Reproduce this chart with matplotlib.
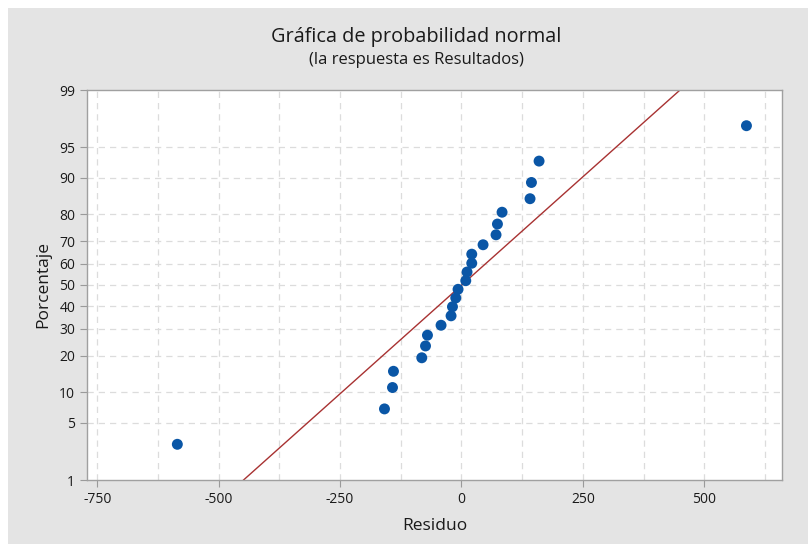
import matplotlib
matplotlib.use("Agg")
import matplotlib.pyplot as plt
import numpy as np
from statistics import NormalDist

plt.rcParams['font.family'] = ['Open Sans', 'DejaVu Sans']

# residuals (sorted)
residuals = [-585, -158.5, -142, -140, -81.7, -74, -70, -42, -21.4, -18.5,
             -11.7, -7, 8.9, 11.5, 21.2, 21.2, 44.5, 71.2, 74.1, 83.6,
             141.2, 144.1, 159.8, 586.8]
pct_ticks = [1, 5, 10, 20, 30, 40, 50, 60, 70, 80, 90, 95, 99]
x_ticks = [-750, -500, -250, 0, 250, 500]

nd = NormalDist()
res = np.sort(np.array(residuals))
n = len(res)
# Benard median ranks, like Minitab
probs = (np.arange(1, n + 1) - 0.3) / (n + 0.4)
z = np.array([nd.inv_cdf(p) for p in probs])

mu = res.mean()
sd = res.std(ddof=1)

bg = '#e4e4e4'
txt = '#1a1a1a'
fig = plt.figure(figsize=(8.08, 5.44), dpi=100, facecolor='white')
fig.patches.append(plt.Rectangle((8 / 808, 0), 1, 1 - 8 / 544, transform=fig.transFigure,
                                 facecolor=bg, edgecolor='none', zorder=-10))
ax = fig.add_axes([87 / 808, 1 - 480 / 544, (782 - 87) / 808, (480 - 90) / 544])
ax.set_facecolor('white')

zlo, zhi = nd.inv_cdf(0.01), nd.inv_cdf(0.99)
ax.set_ylim(zlo, zhi)
ax.set_xlim(-771, 660)

# grid
for x in np.arange(-750, 626, 125):
    ax.axvline(x, color='#dcdcdc', lw=0.9, ls=(0, (5, 4)), zorder=0)
for p in pct_ticks[1:-1]:
    ax.axhline(nd.inv_cdf(p / 100), color='#dcdcdc', lw=0.9, ls=(0, (5, 4)), zorder=0)

# fitted line
zz = np.linspace(zlo - 0.5, zhi + 0.5, 50)
ax.plot(mu + sd * zz, zz, color='#a83232', lw=1.0, zorder=2)

ax.scatter(res, z, s=62, color='#0a56a6', edgecolors='none', zorder=3)

ax.set_yticks([nd.inv_cdf(p / 100) for p in pct_ticks])
ax.set_yticklabels([str(p) for p in pct_ticks])
ax.set_xticks(x_ticks)
ax.set_xticklabels([str(v) for v in x_ticks])
ax.tick_params(axis='both', colors='#9a9a9a', labelcolor=txt, labelsize=10,
               length=5, width=0.8)
for s in ax.spines.values():
    s.set_color('#a0a0a0')
    s.set_linewidth(1.0)

ax.set_xlabel('Residuo', fontsize=12.5, color=txt, labelpad=8)
ax.set_ylabel('Porcentaje', fontsize=12.5, color=txt, labelpad=6)

fig.text(0.515, 1 - 37 / 544, 'Gráfica de probabilidad normal', ha='center', va='center',
         fontsize=14.3, color=txt, fontweight='medium')
fig.text(0.515, 1 - 60 / 544, '(la respuesta es Resultados)', ha='center', va='center',
         fontsize=12, color=txt)

fig.savefig('out.png', dpi=100, facecolor='white')
